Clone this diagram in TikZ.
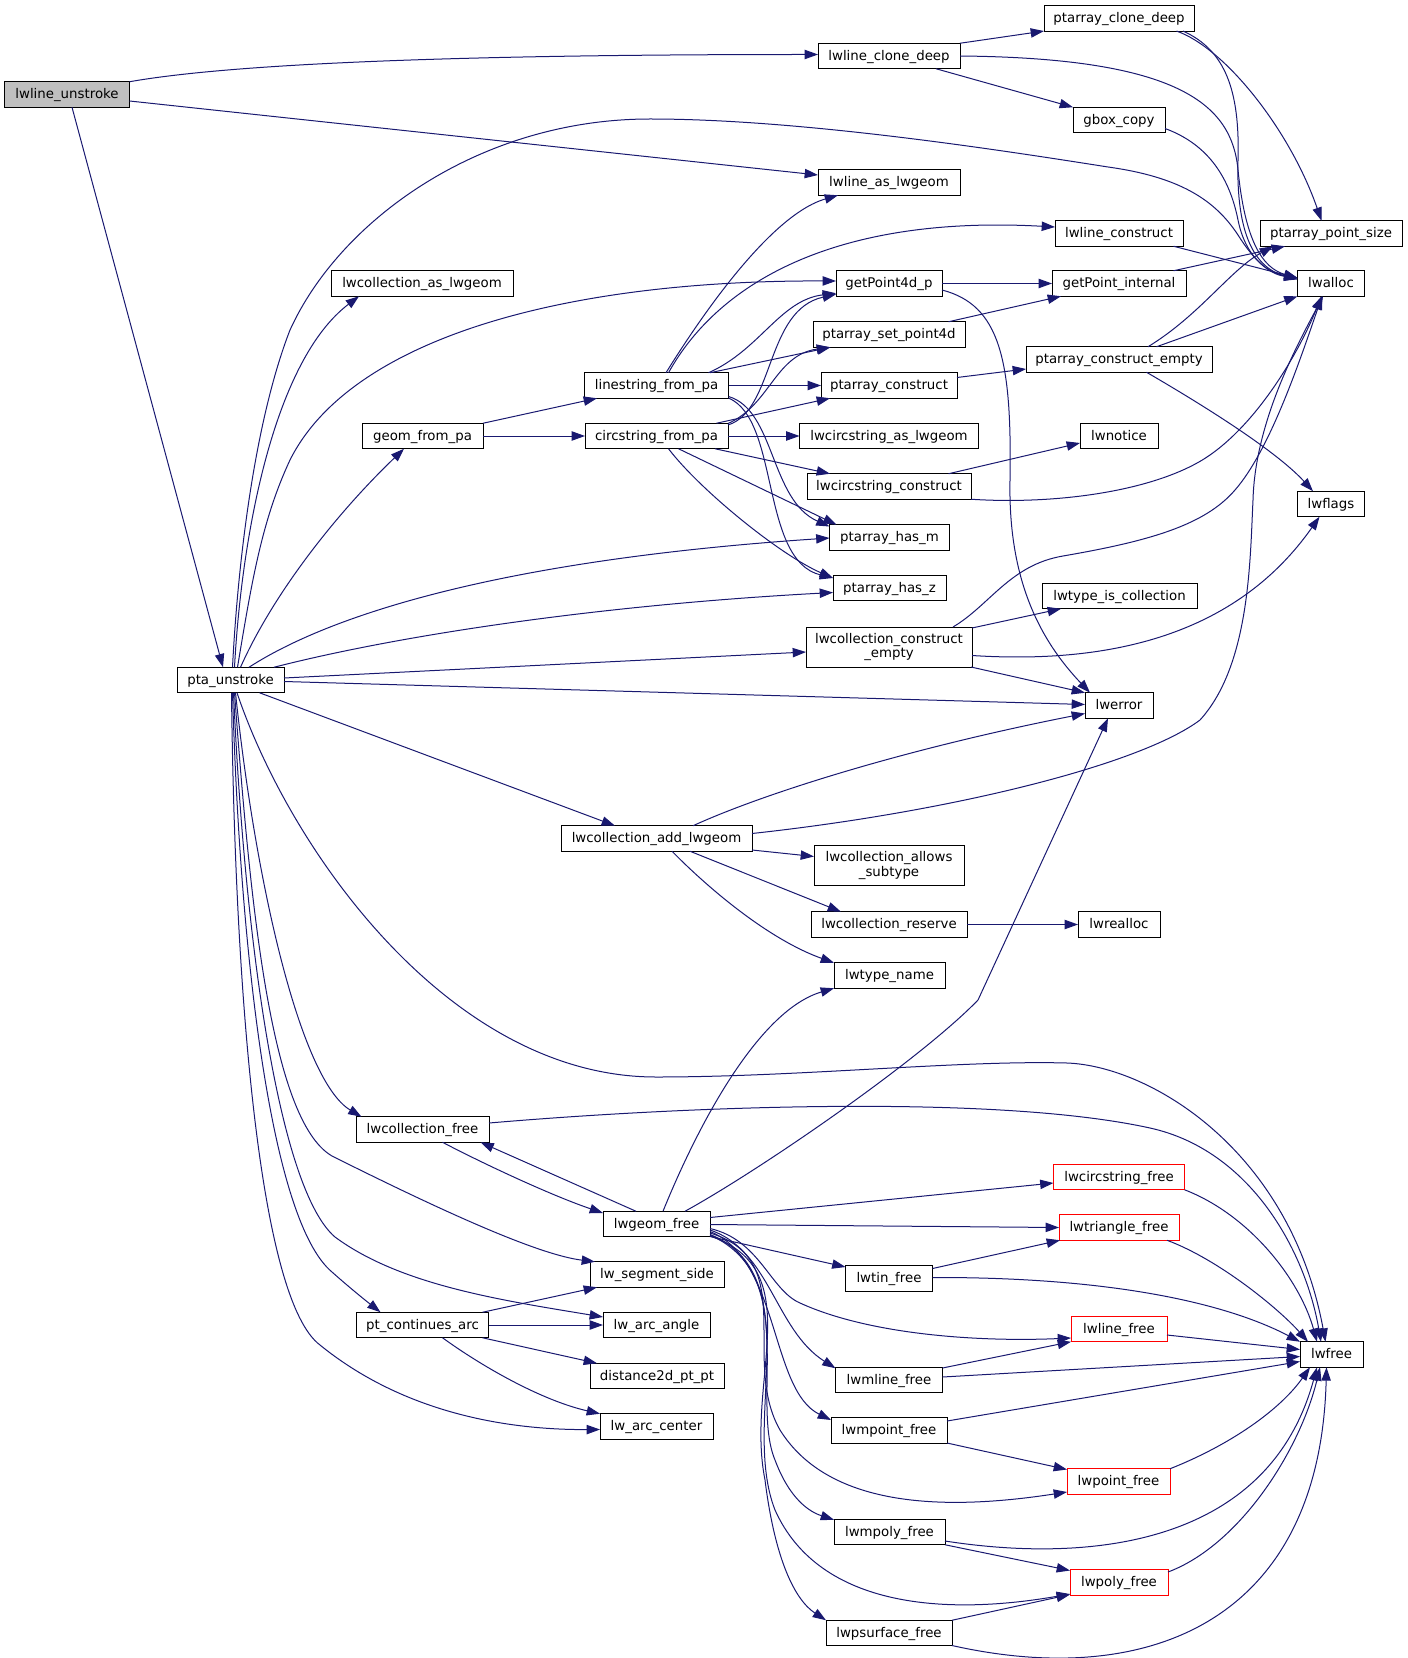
\documentclass[tikz,border=0pt]{standalone}
\usepackage{fontspec}
\setmainfont{DejaVu Sans}
\usetikzlibrary{arrows.meta,calc}
\definecolor{edgeblue}{HTML}{191970}
\definecolor{grayfill}{HTML}{BFBFBF}
\begin{document}
\begin{tikzpicture}[x=0.75pt,y=-0.75pt,
  box/.style={draw=black,fill=white,line width=0.75pt,inner sep=0pt,outer sep=0pt,
    minimum height=19.125pt,text height=8.3pt,text depth=2pt,font=\fontsize{10}{11}\selectfont},
  box2/.style={draw=black,fill=white,line width=0.75pt,inner sep=0pt,outer sep=0pt,
    minimum height=30pt,align=center,font=\fontsize{10}{11}\selectfont},
  rbox/.style={box,draw=red},
  bw/.style={minimum width=#1*0.75pt},
  cn/.style={draw=edgeblue,line width=0.75pt,-{Triangle[length=10pt,width=7pt,fill=edgeblue]}}]
\useasboundingbox (0,0) rectangle (1408,1658);
% nodes
\node[box,bw=125,fill=grayfill] (lu) at (67,94.5) {lwline\_unstroke};
\node[box,bw=142] (lcd) at (889,56) {lwline\_clone\_deep};
\node[box,bw=150] (pcd) at (1119,18.3) {ptarray\_clone\_deep};
\node[box,bw=92] (gbc) at (1119,120) {gbox\_copy};
\node[box,bw=142] (lal) at (889,182.5) {lwline\_as\_lwgeom};
\node[box,bw=128] (lc) at (1119,233.5) {lwline\_construct};
\node[box,bw=142] (pps) at (1331,233.5) {ptarray\_point\_size};
\node[box,bw=182] (cal) at (422,283.5) {lwcollection\_as\_lwgeom};
\node[box,bw=106] (gp4) at (889,283.5) {getPoint4d\_p};
\node[box,bw=134] (gpi) at (1119,283.5) {getPoint\_internal};
\node[box,bw=67] (alloc) at (1331,283.5) {lwalloc};
\node[box,bw=152] (psp) at (889,334.5) {ptarray\_set\_point4d};
\node[box,bw=186] (pce) at (1119,359.5) {ptarray\_construct\_empty};
\node[box,bw=144] (lfp) at (656.5,385.5) {linestring\_from\_pa};
\node[box,bw=136] (pc) at (889,385.5) {ptarray\_construct};
\node[box,bw=121] (gfp) at (422.5,436) {geom\_from\_pa};
\node[box,bw=143] (cfp) at (656.5,436) {circstring\_from\_pa};
\node[box,bw=179] (ccal) at (889,436) {lwcircstring\_as\_lwgeom};
\node[box,bw=78] (notice) at (1119,436) {lwnotice};
\node[box,bw=164] (ccc) at (889,486.5) {lwcircstring\_construct};
\node[box,bw=67] (flags) at (1331,504) {lwflags};
\node[box,bw=120] (phm) at (889.5,537.5) {ptarray\_has\_m};
\node[box,bw=113] (phz) at (889.5,588) {ptarray\_has\_z};
\node[box,bw=155] (tic) at (1119.5,596) {lwtype\_is\_collection};
\node[box2,bw=166] (cce) at (889,647) {lwcollection\_construct\\\_empty};
\node[box,bw=107] (pu) at (230.5,680) {pta\_unstroke};
\node[box,bw=68] (err) at (1119,705.5) {lwerror};
\node[box,bw=191] (cadd) at (656.5,838.5) {lwcollection\_add\_lwgeom};
\node[box2,bw=150] (cas) at (889,865.5) {lwcollection\_allows\\\_subtype};
\node[box,bw=156] (cres) at (889,924.5) {lwcollection\_reserve};
\node[box,bw=82] (realloc) at (1119,924.5) {lwrealloc};
\node[box,bw=111] (tname) at (889.5,975.5) {lwtype\_name};
\node[box,bw=133] (cfree) at (422.5,1129.5) {lwcollection\_free};
\node[rbox,bw=131] (ccfree) at (1119,1177) {lwcircstring\_free};
\node[box,bw=107] (gfree) at (656.5,1224) {lwgeom\_free};
\node[rbox,bw=120] (trifree) at (1119,1227.5) {lwtriangle\_free};
\node[box,bw=134] (seg) at (657,1274.5) {lw\_segment\_side};
\node[box,bw=87] (tinfree) at (889,1278.5) {lwtin\_free};
\node[box,bw=132] (pca) at (422.5,1325) {pt\_continues\_arc};
\node[box,bw=107] (arcang) at (656.5,1325) {lw\_arc\_angle};
\node[rbox,bw=96] (linefree) at (1119,1329) {lwline\_free};
\node[box,bw=63] (lwf) at (1331.5,1354.5) {lwfree};
\node[box,bw=134] (dist) at (657,1376) {distance2d\_pt\_pt};
\node[box,bw=107] (mlfree) at (889,1380) {lwmline\_free};
\node[box,bw=113] (arccen) at (656.5,1426.5) {lw\_arc\_center};
\node[box,bw=116] (mptfree) at (889,1430.5) {lwmpoint\_free};
\node[rbox,bw=103] (ptfree) at (1118.5,1481.5) {lwpoint\_free};
\node[box,bw=111] (mpolyfree) at (889.5,1532) {lwmpoly\_free};
\node[rbox,bw=98] (polyfree) at (1119,1582.5) {lwpoly\_free};
\node[box,bw=126] (psfree) at (889,1633) {lwpsurface\_free};
% edges: lwline_unstroke
\draw[cn] (lu.north east) .. controls (230,64) and (450,54.5) .. ($(lcd.west)+(0,-1.5)$);
\draw[cn] ($(lu.east)+(0,6.5)$) -- ($(lal.west)+(0,-7.5)$);
\draw[cn] ($(lu.south)+(5,0)$) -- ($(pu.north)+(-7.5,0)$);
% lwline_clone_deep and top right
\draw[cn] (lcd.north east) -- (pcd.south west);
\draw[cn] (lcd.east) .. controls (1180,58) and (1232,105) .. (1238,170) .. controls (1245,240) and (1262,268) .. ($(alloc.west)+(0,-5.5)$);
\draw[cn] ($(lcd.south)+(47,0)$) -- (gbc.north west);
\draw[cn] ($(pcd.south)+(57.5,0)$) .. controls (1225,48) and (1290,130) .. ($(pps.north)+(-9.5,0)$);
\draw[cn] ($(pcd.south)+(64,0)$) .. controls (1225,50) and (1240,90) .. (1238,160) .. controls (1236,235) and (1255,268) .. ($(alloc.west)+(0,-4)$);
\draw[cn] ($(gbc.east)+(0,8.5)$) .. controls (1210,145) and (1230,180) .. (1238,220) .. controls (1245,255) and (1265,272) .. ($(alloc.west)+(0,-5.5)$);
% pta_unstroke upward
\draw[cn] ($(pu.north)+(2,0)$) .. controls (238,560) and (255,420) .. (290,330) .. controls (340,220) and (480,119) .. (650,119) .. controls (800,119) and (1000,150) .. (1108,167) .. controls (1180,177) and (1215,200) .. (1238,235) .. controls (1255,262) and (1270,274) .. ($(alloc.west)+(0,-5)$);
\draw[cn] ($(pu.north)+(4,0)$) .. controls (242,530) and (275,360) .. ($(cal.south west)+(28,0)$);
\draw[cn] ($(pu.north)+(7,0)$) .. controls (252,580) and (262,520) .. (290,460) .. controls (350,340) and (560,280) .. ($(gp4.west)+(0,-2.5)$);
\draw[cn] ($(pu.north)+(10,0)$) .. controls (275,590) and (340,510) .. ($(gfp.south)+(-18.5,0)$);
\draw[cn] ($(pu.north)+(18.5,0)$) .. controls (330,615) and (500,560) .. ($(phm.west)+(0,0.5)$);
\draw[cn] ($(pu.north east)+(-10,0)$) .. controls (400,635) and (600,605) .. ($(phz.west)+(0,4.5)$);
\draw[cn] ($(pu.east)+(0,-2)$) -- ($(cce.west)+(0,5)$);
\draw[cn] ($(pu.east)+(0,1.5)$) -- ($(err.west)+(0,-1)$);
\draw[cn] ($(pu.south)+(29,0)$) -- ($(cadd.north)+(-41.5,0)$);
% pta_unstroke downward
\draw[cn] ($(pu.south)+(6.5,0)$) .. controls (290,850) and (450,1077) .. (656,1077) .. controls (800,1077) and (960,1060) .. (1067,1063) .. controls (1150,1066) and (1290,1150) .. ($(lwf.north)+(-6,0)$);
\draw[cn] ($(pu.south)+(5,0)$) .. controls (255,880) and (300,1080) .. ($(cfree.north west)+(5.5,0)$);
\draw[cn] ($(pu.south)+(4,0)$) .. controls (250,900) and (270,1120) .. (332,1156) .. controls (450,1215) and (540,1255) .. ($(seg.north west)+(5,0)$);
\draw[cn] ($(pu.south)+(3,0)$) .. controls (245,950) and (280,1190) .. (335,1237) .. controls (400,1285) and (500,1300) .. ($(arcang.west)+(0,-8)$);
\draw[cn] ($(pu.south)+(2,0)$) .. controls (240,950) and (270,1220) .. (332,1272) .. controls (350,1288) and (365,1300) .. ($(pca.north west)+(24,0)$);
\draw[cn] ($(pu.south)+(1,0)$) .. controls (235,1000) and (260,1300) .. (320,1345) .. controls (400,1410) and (500,1430) .. ($(arccen.west)+(0,3)$);
% geom_from_pa
\draw[cn] (gfp.north east) -- ($(lfp.south west)+(12.5,0)$);
\draw[cn] (gfp.east) -- (cfp.west);
% linestring_from_pa
\draw[cn] ($(lfp.north)+(9.5,0)$) .. controls (700,318) and (770,215) .. ($(lal.south west)+(20,0)$);
\draw[cn] ($(lfp.north)+(12,0)$) .. controls (720,280) and (840,215) .. ($(lc.west)+(0,-6.5)$);
\draw[cn] ($(lfp.north east)+(-20,0)$) .. controls (760,350) and (780,300) .. ($(gp4.south west)+(0,-3)$);
\draw[cn] ($(lfp.north east)+(-18.5,0)$) -- ($(psp.south west)+(17.5,0)$);
\draw[cn] (lfp.east) -- (pc.west);
\draw[cn] ($(lfp.east)+(0,11)$) .. controls (775,410) and (770,500) .. ($(phm.west)+(0,-11)$);
\draw[cn] ($(lfp.east)+(0,12.5)$) .. controls (780,420) and (760,560) .. ($(phz.west)+(0,-10)$);
% circstring_from_pa
\draw[cn] ($(cfp.east)+(0,-11)$) .. controls (775,410) and (765,310) .. ($(gp4.south west)+(0,-2)$);
\draw[cn] ($(cfp.east)+(0,-12.5)$) .. controls (770,405) and (775,355) .. ($(psp.south west)+(17,0)$);
\draw[cn] ($(cfp.north east)+(-11.5,0)$) -- ($(pc.south west)+(9,0)$);
\draw[cn] (cfp.east) -- (ccal.west);
\draw[cn] ($(cfp.south east)+(-13,0)$) -- ($(ccc.north west)+(23,0)$);
\draw[cn] ($(cfp.south)+(22,0)$) -- ($(phm.north west)+(7,0)$);
\draw[cn] ($(cfp.south)+(12,0)$) .. controls (700,490) and (780,555) .. ($(phz.west)+(0,-10)$);
% column 4 to right
\draw[cn] (gp4.east) -- (gpi.west);
\draw[cn] ($(gp4.east)+(0,6.5)$) .. controls (1000,305) and (1012,360) .. (1010,480) .. controls (1008,580) and (1040,640) .. ($(err.north west)+(5,0)$);
\draw[cn] ($(psp.north east)+(-16.5,0)$) -- ($(gpi.south west)+(9,0)$);
\draw[cn] ($(pc.east)+(0,-8)$) -- ($(pce.west)+(0,9.5)$);
\draw[cn] ($(lc.south east)+(-9.5,0)$) -- ($(alloc.west)+(0,-5.5)$);
\draw[cn] ($(gpi.north east)+(-12.5,0)$) -- ($(pps.south west)+(25,0)$);
\draw[cn] ($(pce.north)+(29,0)$) .. controls (1200,315) and (1230,270) .. ($(pps.south west)+(13,0)$);
\draw[cn] ($(pce.north)+(37.5,0)$) -- (alloc.south west);
\draw[cn] ($(pce.south)+(27.5,0)$) .. controls (1220,415) and (1280,455) .. ($(flags.north)+(-18,0)$);
\draw[cn] ($(ccc.north east)+(-22.5,0)$) -- ($(notice.west)+(0,7)$);
\draw[cn] (ccc.south east) .. controls (1060,505) and (1160,490) .. (1210,455) .. controls (1260,420) and (1300,350) .. ($(alloc.south)+(-9.5,0)$);
% lwcollection_construct_empty
\draw[cn] ($(cce.north)+(64,0)$) .. controls (990,605) and (1010,565) .. (1063,556) .. controls (1150,541) and (1205,525) .. (1235,490) .. controls (1270,450) and (1300,360) .. ($(alloc.south)+(-9,0)$);
\draw[cn] ($(cce.east)+(0,-19)$) -- ($(tic.south west)+(19,0)$);
\draw[cn] ($(cce.east)+(0,8.5)$) .. controls (1120,665) and (1240,630) .. ($(flags.south)+(-11.5,0)$);
\draw[cn] ($(cce.south east)+(-1,0)$) -- (err.north west);
% lwcollection_add_lwgeom
\draw[cn] ($(cadd.north)+(36.5,0)$) .. controls (760,795) and (900,750) .. ($(err.west)+(0,8)$);
\draw[cn] ($(cadd.east)+(0,-5)$) .. controls (950,812) and (1140,765) .. (1200,720) .. controls (1250,665) and (1250,560) .. (1253,500) .. controls (1255,420) and (1300,340) .. ($(alloc.south)+(-8,0)$);
\draw[cn] ($(cadd.east)+(0,11.5)$) -- ($(cas.west)+(0,-9)$);
\draw[cn] ($(cadd.south)+(33.5,0)$) -- ($(cres.north west)+(30,0)$);
\draw[cn] ($(cadd.south)+(15.5,0)$) .. controls (710,890) and (770,940) .. (tname.north west);
\draw[cn] (cres.east) -- (realloc.west);
% lwcollection_free / lwgeom_free
\draw[cn] ($(cfree.south)+(20,0)$) .. controls (480,1162) and (550,1195) .. ($(gfree.west)+(0,-11)$);
\draw[cn] ($(gfree.north)+(-20.5,0)$) -- ($(cfree.south east)+(-8.5,0)$);
\draw[cn] ($(cfree.east)+(0,-6.5)$) .. controls (700,1105) and (1000,1095) .. (1150,1128) .. controls (1250,1150) and (1305,1250) .. ($(lwf.north)+(-10.5,0)$);
\draw[cn] ($(gfree.north)+(6.5,0)$) .. controls (700,1120) and (760,1010) .. (tname.south west);
\draw[cn] ($(gfree.north)+(28.5,0)$) .. controls (760,1170) and (920,1060) .. (978,1000) -- ($(err.south)+(-11,0)$);
\draw[cn] ($(gfree.east)+(0,-6.5)$) -- ($(ccfree.west)+(0,6)$);
\draw[cn] ($(gfree.east)+(0,0.5)$) -- (trifree.west);
\draw[cn] ($(gfree.east)+(0,12.5)$) -- ($(tinfree.west)+(0,-11.5)$);
\draw[cn] ($(gfree.east)+(0,4.5)$) .. controls (760,1240) and (770,1290) .. (800,1303) .. controls (870,1335) and (980,1342) .. ($(linefree.west)+(0,9)$);
\draw[cn] ($(gfree.east)+(0,6)$) .. controls (770,1250) and (775,1330) .. ($(mlfree.north west)+(0,1)$);
\draw[cn] ($(gfree.east)+(0,7.5)$) .. controls (780,1260) and (770,1390) .. ($(mptfree.west)+(0,-10.5)$);
\draw[cn] ($(gfree.east)+(0,9)$) .. controls (800,1260) and (740,1360) .. (780,1430) .. controls (830,1510) and (950,1510) .. ($(ptfree.west)+(0,10.5)$);
\draw[cn] ($(gfree.east)+(0,10.5)$) .. controls (800,1270) and (750,1400) .. (775,1460) .. controls (790,1500) and (810,1512) .. ($(mpolyfree.north west)+(0,0.5)$);
\draw[cn] ($(gfree.east)+(0,11)$) .. controls (810,1280) and (740,1420) .. (775,1510) .. controls (820,1610) and (950,1615) .. ($(polyfree.west)+(0,11.5)$);
\draw[cn] ($(gfree.east)+(0,12)$) .. controls (810,1270) and (745,1380) .. (765,1480) .. controls (775,1560) and (795,1600) .. (psfree.north west);
% into lwfree
\draw[cn] (ccfree.south east) .. controls (1250,1215) and (1300,1280) .. ($(lwf.north)+(-14.5,0)$);
\draw[cn] ($(trifree.south east)+(-12,0)$) .. controls (1220,1260) and (1280,1310) .. ($(lwf.north west)+(8,0)$);
\draw[cn] ($(tinfree.east)+(0,-1)$) .. controls (1100,1277) and (1220,1300) .. (lwf.north west);
\draw[cn] ($(tinfree.east)+(0,-10)$) -- ($(trifree.south west)+(1,0)$);
\draw[cn] ($(linefree.east)+(0,6)$) -- ($(lwf.west)+(0,-5)$);
\draw[cn] ($(mlfree.east)+(0,-12)$) -- (linefree.south west);
\draw[cn] ($(mlfree.east)+(0,-3)$) -- ($(lwf.west)+(0,2)$);
\draw[cn] ($(mptfree.east)+(0,-9.5)$) -- ($(lwf.west)+(0,7)$);
\draw[cn] ($(mptfree.east)+(0,12.5)$) -- ($(ptfree.west)+(0,-12)$);
\draw[cn] (ptfree.north east) .. controls (1230,1445) and (1280,1410) .. ($(lwf.south)+(-21.5,0)$);
\draw[cn] ($(mpolyfree.east)+(0,9)$) .. controls (1100,1565) and (1270,1540) .. ($(lwf.south)+(-14.5,0)$);
\draw[cn] (mpolyfree.south east) -- ($(polyfree.west)+(0,-12)$);
\draw[cn] ($(polyfree.east)+(0,-10.5)$) .. controls (1240,1545) and (1300,1450) .. ($(lwf.south)+(-11.5,0)$);
\draw[cn] (psfree.north east) -- ($(polyfree.west)+(0,12)$);
\draw[cn] ($(psfree.east)+(0,12.5)$) .. controls (1150,1690) and (1320,1620) .. ($(lwf.south)+(-5,0)$);
% pt_continues_arc
\draw[cn] ($(pca.north east)+(-6,0)$) -- ($(seg.south west)+(7,0)$);
\draw[cn] (pca.east) -- (arcang.west);
\draw[cn] ($(pca.south east)+(-6,0)$) -- ($(dist.north west)+(7,0)$);
\draw[cn] ($(pca.south)+(20,0)$) .. controls (480,1365) and (540,1400) .. (arccen.north west);
\end{tikzpicture}
\end{document}
